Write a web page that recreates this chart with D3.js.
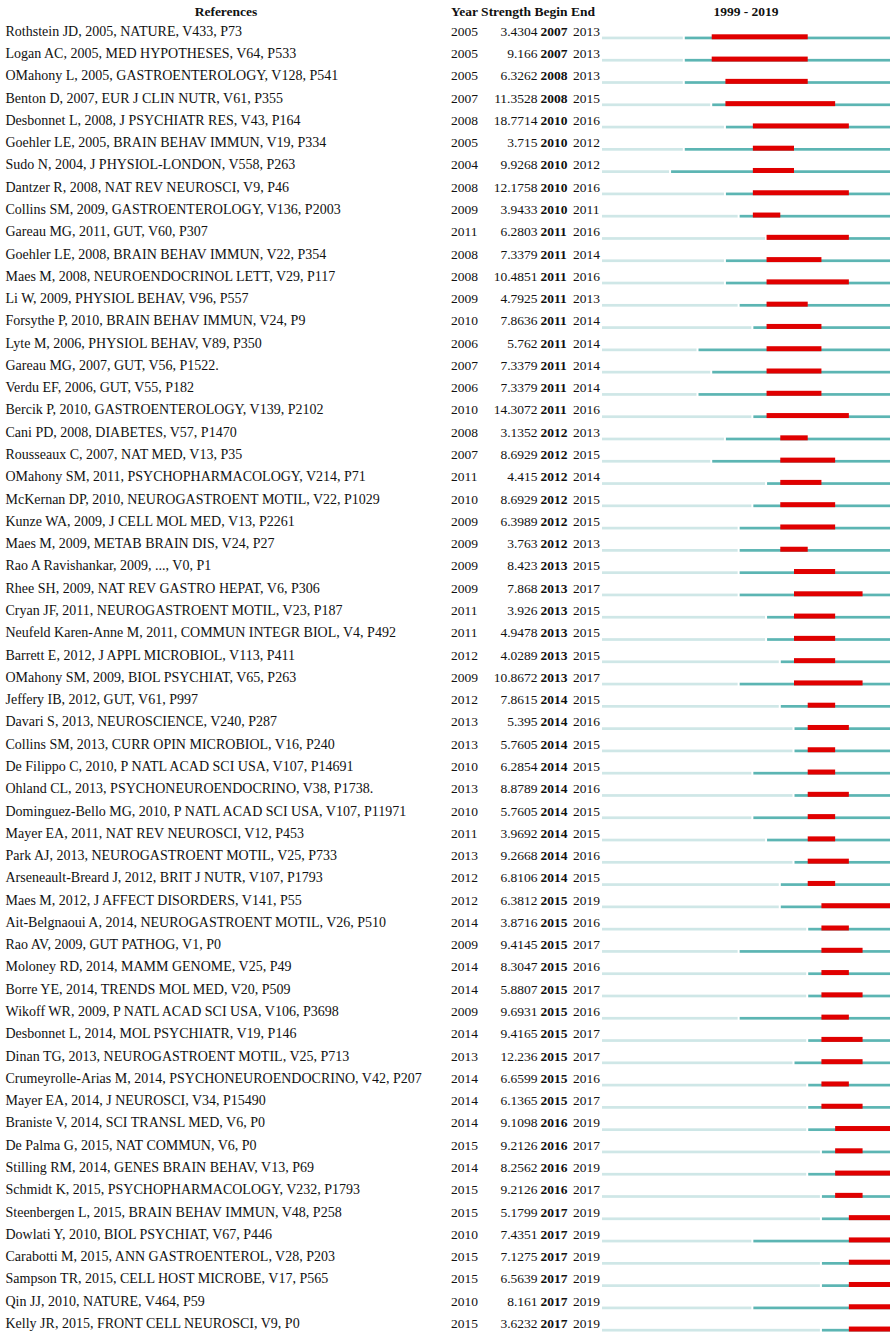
<!DOCTYPE html>
<html>
<head>
<meta charset="utf-8">
<script src="https://cdn.jsdelivr.net/npm/d3@7"></script>
<style>
  html, body { margin: 0; padding: 0; background: #fff; }
  svg { display: block; }
  text { font-family: "Liberation Serif", "Times New Roman", serif; fill: #111; }
</style>
</head>
<body>
<div id="chart"></div>
<script>
const references = [
  "Rothstein JD, 2005, NATURE, V433, P73",
  "Logan AC, 2005, MED HYPOTHESES, V64, P533",
  "OMahony L, 2005, GASTROENTEROLOGY, V128, P541",
  "Benton D, 2007, EUR J CLIN NUTR, V61, P355",
  "Desbonnet L, 2008, J PSYCHIATR RES, V43, P164",
  "Goehler LE, 2005, BRAIN BEHAV IMMUN, V19, P334",
  "Sudo N, 2004, J PHYSIOL-LONDON, V558, P263",
  "Dantzer R, 2008, NAT REV NEUROSCI, V9, P46",
  "Collins SM, 2009, GASTROENTEROLOGY, V136, P2003",
  "Gareau MG, 2011, GUT, V60, P307",
  "Goehler LE, 2008, BRAIN BEHAV IMMUN, V22, P354",
  "Maes M, 2008, NEUROENDOCRINOL LETT, V29, P117",
  "Li W, 2009, PHYSIOL BEHAV, V96, P557",
  "Forsythe P, 2010, BRAIN BEHAV IMMUN, V24, P9",
  "Lyte M, 2006, PHYSIOL BEHAV, V89, P350",
  "Gareau MG, 2007, GUT, V56, P1522.",
  "Verdu EF, 2006, GUT, V55, P182",
  "Bercik P, 2010, GASTROENTEROLOGY, V139, P2102",
  "Cani PD, 2008, DIABETES, V57, P1470",
  "Rousseaux C, 2007, NAT MED, V13, P35",
  "OMahony SM, 2011, PSYCHOPHARMACOLOGY, V214, P71",
  "McKernan DP, 2010, NEUROGASTROENT MOTIL, V22, P1029",
  "Kunze WA, 2009, J CELL MOL MED, V13, P2261",
  "Maes M, 2009, METAB BRAIN DIS, V24, P27",
  "Rao A Ravishankar, 2009, ..., V0, P1",
  "Rhee SH, 2009, NAT REV GASTRO HEPAT, V6, P306",
  "Cryan JF, 2011, NEUROGASTROENT MOTIL, V23, P187",
  "Neufeld Karen-Anne M, 2011, COMMUN INTEGR BIOL, V4, P492",
  "Barrett E, 2012, J APPL MICROBIOL, V113, P411",
  "OMahony SM, 2009, BIOL PSYCHIAT, V65, P263",
  "Jeffery IB, 2012, GUT, V61, P997",
  "Davari S, 2013, NEUROSCIENCE, V240, P287",
  "Collins SM, 2013, CURR OPIN MICROBIOL, V16, P240",
  "De Filippo C, 2010, P NATL ACAD SCI USA, V107, P14691",
  "Ohland CL, 2013, PSYCHONEUROENDOCRINO, V38, P1738.",
  "Dominguez-Bello MG, 2010, P NATL ACAD SCI USA, V107, P11971",
  "Mayer EA, 2011, NAT REV NEUROSCI, V12, P453",
  "Park AJ, 2013, NEUROGASTROENT MOTIL, V25, P733",
  "Arseneault-Breard J, 2012, BRIT J NUTR, V107, P1793",
  "Maes M, 2012, J AFFECT DISORDERS, V141, P55",
  "Ait-Belgnaoui A, 2014, NEUROGASTROENT MOTIL, V26, P510",
  "Rao AV, 2009, GUT PATHOG, V1, P0",
  "Moloney RD, 2014, MAMM GENOME, V25, P49",
  "Borre YE, 2014, TRENDS MOL MED, V20, P509",
  "Wikoff WR, 2009, P NATL ACAD SCI USA, V106, P3698",
  "Desbonnet L, 2014, MOL PSYCHIATR, V19, P146",
  "Dinan TG, 2013, NEUROGASTROENT MOTIL, V25, P713",
  "Crumeyrolle-Arias M, 2014, PSYCHONEUROENDOCRINO, V42, P207",
  "Mayer EA, 2014, J NEUROSCI, V34, P15490",
  "Braniste V, 2014, SCI TRANSL MED, V6, P0",
  "De Palma G, 2015, NAT COMMUN, V6, P0",
  "Stilling RM, 2014, GENES BRAIN BEHAV, V13, P69",
  "Schmidt K, 2015, PSYCHOPHARMACOLOGY, V232, P1793",
  "Steenbergen L, 2015, BRAIN BEHAV IMMUN, V48, P258",
  "Dowlati Y, 2010, BIOL PSYCHIAT, V67, P446",
  "Carabotti M, 2015, ANN GASTROENTEROL, V28, P203",
  "Sampson TR, 2015, CELL HOST MICROBE, V17, P565",
  "Qin JJ, 2010, NATURE, V464, P59",
  "Kelly JR, 2015, FRONT CELL NEUROSCI, V9, P0"
];
const years = [2005,2005,2005,2007,2008,2005,2004,2008,2009,2011,2008,2008,2009,2010,2006,2007,2006,2010,2008,2007,2011,2010,2009,2009,2009,2009,2011,2011,2012,2009,2012,2013,2013,2010,2013,2010,2011,2013,2012,2012,2014,2009,2014,2014,2009,2014,2013,2014,2014,2014,2015,2014,2015,2015,2010,2015,2015,2010,2015];
const strengths = [3.4304,9.166,6.3262,11.3528,18.7714,3.715,9.9268,12.1758,3.9433,6.2803,7.3379,10.4851,4.7925,7.8636,5.762,7.3379,7.3379,14.3072,3.1352,8.6929,4.415,8.6929,6.3989,3.763,8.423,7.868,3.926,4.9478,4.0289,10.8672,7.8615,5.395,5.7605,6.2854,8.8789,5.7605,3.9692,9.2668,6.8106,6.3812,3.8716,9.4145,8.3047,5.8807,9.6931,9.4165,12.236,6.6599,6.1365,9.1098,9.2126,8.2562,9.2126,5.1799,7.4351,7.1275,6.5639,8.161,3.6232];
const begins = [2007,2007,2008,2008,2010,2010,2010,2010,2010,2011,2011,2011,2011,2011,2011,2011,2011,2011,2012,2012,2012,2012,2012,2012,2013,2013,2013,2013,2013,2013,2014,2014,2014,2014,2014,2014,2014,2014,2014,2015,2015,2015,2015,2015,2015,2015,2015,2015,2015,2016,2016,2016,2016,2017,2017,2017,2017,2017,2017];
const ends = [2013,2013,2013,2015,2016,2012,2012,2016,2011,2016,2014,2016,2013,2014,2014,2014,2014,2016,2013,2015,2014,2015,2015,2013,2015,2017,2015,2015,2015,2017,2015,2016,2015,2015,2016,2015,2015,2016,2015,2019,2016,2017,2016,2017,2016,2017,2017,2016,2017,2019,2017,2019,2017,2019,2019,2019,2019,2019,2019];
const yearRange = [1999, 2019];
const headers = { refs: "References", cols: "Year Strength Begin End", span: "1999 - 2019" };

const W = 896, H = 1339;
const colors = { light: "#cfe7e7", teal: "#5cb5b3", red: "#e00000" };
const fontSize = 13.5;
const refFontSize = 14;

const rows = references.map((r, i) => ({
  ref: r, year: years[i], strength: strengths[i], begin: begins[i], end: ends[i], i
}));

const svg = d3.select("#chart").append("svg")
  .attr("width", W).attr("height", H)
  .attr("viewBox", `0 0 ${W} ${H}`);
svg.append("rect").attr("width", W).attr("height", H).attr("fill", "#fff");

const x = d3.scaleLinear().domain([yearRange[0], yearRange[1] + 1]).range([602, 890]);
// bar bottom of each row
const y = d3.scaleLinear().domain([0, rows.length - 1]).range([39.3, 39.3 + (rows.length - 1) * 22.28]);

// headers
const hdr = svg.append("g").attr("font-weight", "bold").attr("font-size", fontSize);
hdr.append("text").attr("x", 226).attr("y", 16).attr("text-anchor", "middle").text(headers.refs);
hdr.append("text").attr("x", 451).attr("y", 16).text(headers.cols);
hdr.append("text").attr("x", (x(yearRange[0]) + x(yearRange[1] + 1)) / 2).attr("y", 16)
  .attr("text-anchor", "middle").text(headers.span);

const g = svg.selectAll("g.row").data(rows).join("g").attr("class", "row")
  .attr("font-size", fontSize);

const base = d => y(d.i) - 3.6;
g.append("text").attr("x", 5.5).attr("y", base).attr("font-size", refFontSize).text(d => d.ref);
g.append("text").attr("x", 451).attr("y", base).text(d => d.year);
g.append("text").attr("x", 537.5).attr("y", base).attr("text-anchor", "end").text(d => String(d.strength));
g.append("text").attr("x", 540.5).attr("y", base).attr("font-weight", "bold").text(d => d.begin);
g.append("text").attr("x", 573).attr("y", base).text(d => d.end);

const thin = 2.7, thick = 5;
// light segment: before publication year
g.append("rect")
  .attr("x", x(yearRange[0]))
  .attr("y", d => y(d.i) - thin)
  .attr("width", d => Math.max(0, x(d.year) - x(yearRange[0]) - 1.5))
  .attr("height", thin)
  .attr("fill", colors.light);
// teal segment: publication year to end
g.append("rect")
  .attr("x", d => x(d.year) + 0.5)
  .attr("y", d => y(d.i) - thin)
  .attr("width", d => x(yearRange[1] + 1) - x(d.year) - 0.5)
  .attr("height", thin)
  .attr("fill", colors.teal);
// red burst segment
g.append("rect")
  .attr("x", d => x(d.begin))
  .attr("y", d => y(d.i) - thick)
  .attr("width", d => x(d.end + 1) - x(d.begin))
  .attr("height", thick)
  .attr("fill", colors.red);
</script>
</body>
</html>
